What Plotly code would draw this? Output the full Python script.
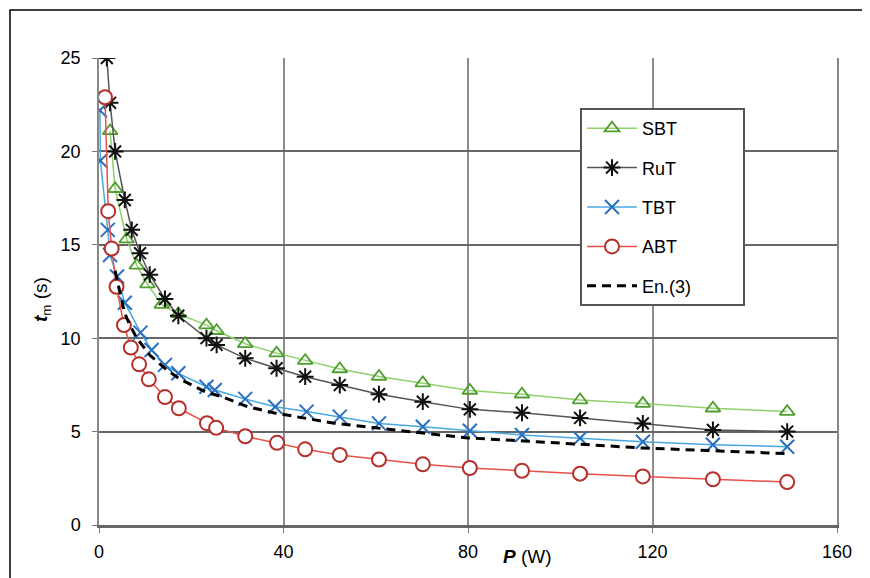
import plotly.graph_objects as go

# SBT (green triangles)
sbt_p = [2.4, 3.5, 6.0, 8.2, 10.5, 13.6, 17.2, 23.3, 25.5, 31.7, 38.5, 44.7, 52.2,
         60.7, 70.2, 80.4, 91.7, 104.3, 117.9, 133.1, 149.2]
sbt_t = [21.1, 18.0, 15.3, 13.9, 12.9, 11.8, 11.3, 10.7, 10.4, 9.7, 9.2, 8.8, 8.35,
         7.95, 7.6, 7.2, 7.0, 6.69, 6.5, 6.25, 6.07]

# RuT (black asterisks)
rut_p = [1.7, 2.4, 3.5, 5.6, 7.1, 8.9, 11.0, 14.3, 17.2, 23.3, 25.5, 31.7, 38.5,
         44.7, 52.2, 60.7, 70.2, 80.4, 91.7, 104.3, 117.9, 133.1, 149.2]
rut_t = [25.0, 22.6, 20.0, 17.4, 15.8, 14.55, 13.4, 12.1, 11.2, 10.0, 9.64, 8.92, 8.39,
         7.94, 7.49, 7.0, 6.6, 6.19, 6.01, 5.73, 5.44, 5.09, 5.0]

# TBT (blue crosses)
tbt_p = [0.2, 0.3, 1.9, 2.4, 3.9, 5.6, 9.0, 11.4, 14.3, 17.2, 23.3, 25.1, 31.7, 38.2,
         45.0, 52.2, 60.7, 70.2, 80.4, 91.7, 104.3, 117.9, 133.1, 149.2]
tbt_t = [22.2, 19.5, 15.8, 14.45, 13.3, 11.9, 10.3, 9.37, 8.57, 8.12, 7.4, 7.23, 6.75, 6.33,
         6.07, 5.8, 5.44, 5.26, 5.05, 4.82, 4.64, 4.46, 4.3, 4.19]

# ABT (red circles)
abt_p = [1.3, 2.0, 2.75, 3.8, 5.4, 6.9, 8.7, 10.8, 14.3, 17.3, 23.4, 25.4, 31.7, 38.6,
         44.7, 52.2, 60.7, 70.2, 80.4, 91.7, 104.3, 117.9, 133.1, 149.2]
abt_t = [22.9, 16.8, 14.8, 12.75, 10.7, 9.5, 8.6, 7.8, 6.85, 6.25, 5.45, 5.2, 4.75, 4.4,
         4.05, 3.75, 3.5, 3.25, 3.05, 2.9, 2.75, 2.6, 2.45, 2.3]

# En.(3) (dashed black)
en3_p = [3.5, 4.5, 5.5, 6.5, 8.2, 11.0, 14.7, 17.6, 23.3, 26.9, 32.0, 38.0, 44.0, 51.0,
         60.0, 70.0, 80.0, 92.0, 104.0, 118.0, 133.0, 149.0]
en3_t = [13.6, 12.5, 11.4, 10.8, 10.0, 9.1, 8.3, 7.8, 7.1, 6.85, 6.35, 6.0, 5.75, 5.45,
         5.2, 4.92, 4.66, 4.5, 4.33, 4.12, 3.98, 3.82]

x_ticks = [0, 40, 80, 120, 160]
y_ticks = [0, 5, 10, 15, 20, 25]

# the page body has an 8px margin, so the figure is offset by 8px
OFF = 8
W, H = 870, 578
L, R, T, B = 99 - OFF, 33 + OFF, 58 - OFF, 53 + OFF
pw, ph = W - L - R, H - T - B


def px_x(v):
    return (v - OFF - L) / pw


def px_y(v):
    return (H - B - (v - OFF)) / ph


def pad(name, n):
    # trailing blanks so the legend box is as wide as in the original
    return name + "&nbsp;" * n


fig = go.Figure()

fig.add_trace(go.Scatter(
    x=sbt_p, y=sbt_t, name=pad("SBT", 12), mode="lines+markers", legendgroup="a",
    line=dict(color="#8fd16a", width=1.5),
    marker=dict(symbol="triangle-up-open", size=13, color="#4f9e2f",
                line=dict(width=1.8, color="#4f9e2f")),
))
fig.add_trace(go.Scatter(
    x=rut_p, y=rut_t, name=pad("RuT", 12), mode="lines+markers", legendgroup="b",
    line=dict(color="#555555", width=1.5),
    marker=dict(symbol="asterisk-open", size=14, color="#111111",
                line=dict(width=2, color="#111111")),
))
fig.add_trace(go.Scatter(
    x=tbt_p, y=tbt_t, name=pad("TBT", 12), mode="lines+markers", legendgroup="c",
    line=dict(color="#4aa8e0", width=1.5),
    marker=dict(symbol="x-thin-open", size=14, color="#2a6fc0",
                line=dict(width=2, color="#2a6fc0")),
))
fig.add_trace(go.Scatter(
    x=abt_p, y=abt_t, name=pad("ABT", 12), mode="lines+markers", legendgroup="d",
    line=dict(color="#e8504a", width=1.5),
    marker=dict(symbol="circle", size=14, color="white",
                line=dict(width=2, color="#b5302c")),
))
fig.add_trace(go.Scatter(
    x=en3_p, y=en3_t, name=pad("En.(3)", 7), mode="lines", legendgroup="e",
    line=dict(color="black", width=3, dash="9px,6px"),
))

# outer frame (cut off at the bottom like the original)
fig.add_shape(type="rect", xref="paper", yref="paper",
              x0=px_x(10), x1=px_x(864), y0=px_y(10), y1=px_y(620),
              line=dict(color="black", width=1.5), layer="below")

fig.add_annotation(xref="paper", yref="paper", x=px_x(527), y=px_y(556),
                   xanchor="center", yanchor="middle",
                   text="<b><i>P</i></b> (W)", showarrow=False,
                   font=dict(size=19, color="black"))
fig.add_annotation(xref="paper", yref="paper", x=px_x(42), y=px_y(300),
                   xanchor="center", yanchor="middle",
                   text="<b><i>t</i></b><sub>m</sub> (s)", showarrow=False,
                   textangle=-90, font=dict(size=19, color="black"))

fig.update_xaxes(
    range=[0, 160], tickvals=x_ticks, showgrid=True, gridcolor="#8c8c8c", gridwidth=1.5,
    showline=True, linecolor="#666666", linewidth=2.5, zeroline=False,
    ticks="outside", ticklen=5, tickcolor="#777777",
    tickfont=dict(size=18, color="black"), ticklabelstandoff=4,
)
fig.update_yaxes(
    range=[0, 25], tickvals=y_ticks, showgrid=True, gridcolor="#666666", gridwidth=2,
    showline=True, mirror=True, linecolor="#888888", linewidth=1.5, zeroline=False,
    ticks="outside", ticklen=5, tickcolor="#777777",
    tickfont=dict(size=18, color="black"), ticklabelstandoff=8,
)

fig.update_layout(
    width=W, height=H,
    margin=dict(l=L, r=R, t=T, b=B),
    paper_bgcolor="white", plot_bgcolor="white",
    font=dict(family="Liberation Sans, Arial, sans-serif", color="black"),
    legend=dict(
        x=px_x(580), y=px_y(108), xanchor="left", yanchor="top",
        bgcolor="white", bordercolor="#555555", borderwidth=2,
        font=dict(size=18, color="black"),
        tracegroupgap=13, traceorder="grouped", itemwidth=50,
    ),
)

fig.write_html("out.html")
